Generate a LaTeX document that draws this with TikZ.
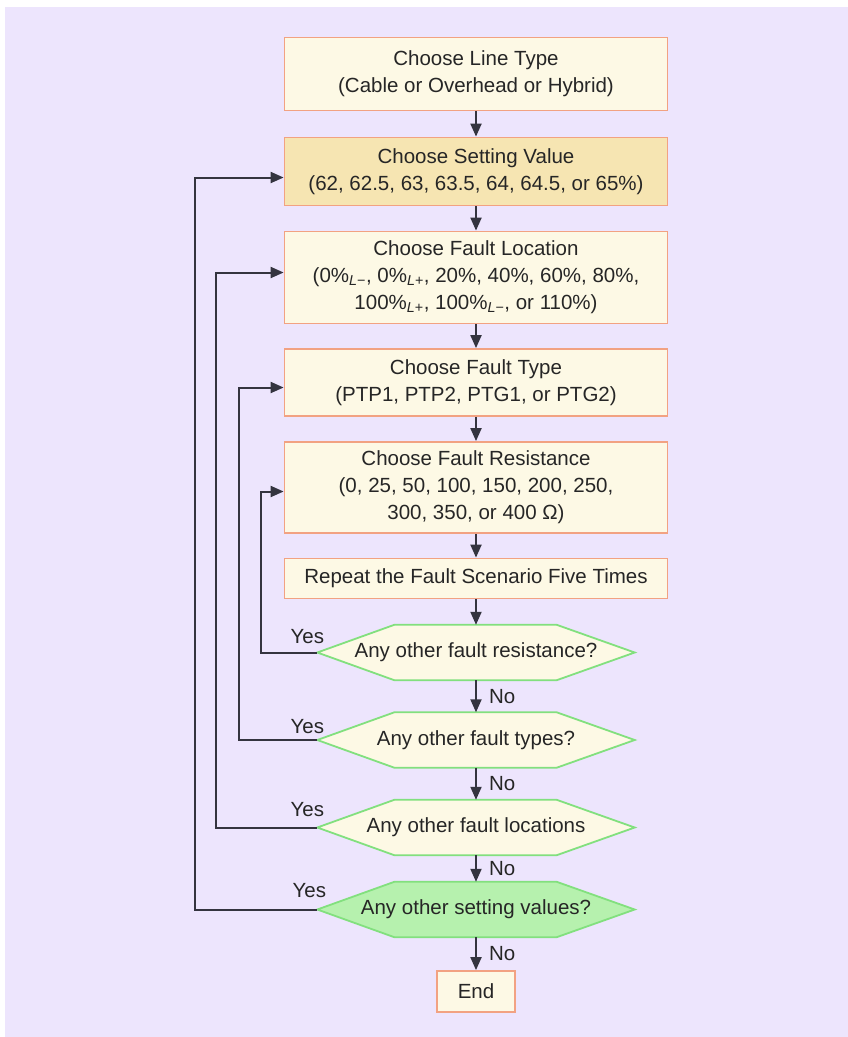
\documentclass[tikz,border=0pt]{standalone}
\usepackage{fontspec}
\setmainfont{Liberation Sans}
\usetikzlibrary{arrows.meta,backgrounds,calc}

\definecolor{pagebg}{HTML}{EDE5FD}
\definecolor{boxfill}{HTML}{FDF9E5}
\definecolor{boxgold}{HTML}{F6E5B2}
\definecolor{boxline}{HTML}{F2A282}
\definecolor{hexline}{HTML}{82E07E}
\definecolor{hexgreen}{HTML}{B6F1AE}
\definecolor{linkline}{HTML}{34343F}
\definecolor{txt}{HTML}{262626}

\tikzset{
  every node/.style={text=txt, font=\fontsize{20.5}{27}\selectfont},
  stepbox/.style={draw=boxline, line width=1.8pt, fill=boxfill, align=center,
    inner sep=0pt, minimum width=383pt},
  hexnode/.style={inner sep=0pt, minimum width=317pt, minimum height=55pt},
  hexshape/.style={draw=hexline, line width=1.8pt, fill=boxfill},
  arr/.style={draw=linkline, line width=2pt, -{Triangle[length=13pt,width=11pt]}},
  lbl/.style={inner sep=0pt}
}

\begin{document}
\begin{tikzpicture}[x=1pt, y=-1pt]
  \useasboundingbox (0,0) rectangle (848,1037);

  % process boxes
  \node[stepbox, minimum height=73pt] (b1) at (476,74)
    {Choose Line Type\\(Cable or Overhead or Hybrid)};
  \node[stepbox, minimum height=68pt, fill=boxgold] (b2) at (476,171.5)
    {Choose Setting Value\\(62, 62.5, 63, 63.5, 64, 64.5, or 65\%)};
  \node[stepbox, minimum height=92pt] (b3) at (476,277.5)
    {Choose Fault Location\\(0\%\textsubscript{\textit{L}−}, 0\%\textsubscript{\textit{L}+}, 20\%, 40\%, 60\%, 80\%,\\100\%\textsubscript{\textit{L}+}, 100\%\textsubscript{\textit{L}−}, or 110\%)};
  \node[stepbox, minimum height=67pt] (b4) at (476,382.5)
    {Choose Fault Type\\(PTP1, PTP2, PTG1, or PTG2)};
  \node[stepbox, minimum height=91pt] (b5) at (476,487.5)
    {Choose Fault Resistance\\(0, 25, 50, 100, 150, 200, 250,\\300, 350, or 400 Ω)};
  \node[stepbox, minimum height=40pt] (b6) at (476,578.5)
    {Repeat the Fault Scenario Five Times};

  % decision nodes (outlines drawn on the background layer)
  \node[hexnode] (d1) at (476,652.5) {Any other fault resistance?};
  \node[hexnode] (d2) at (476,740) {Any other fault types?};
  \node[hexnode] (d3) at (476,827.5) {Any other fault locations};
  \node[hexnode] (d4) at (476,909.5) {Any other setting values?};

  \node[stepbox, minimum width=78pt, minimum height=41pt] (e) at (476,991.5) {End};

  \begin{scope}[on background layer]
    \fill[white] (0,0) rectangle (848,1037);
    \fill[pagebg] (5,7) rectangle (848,1037);
    \foreach \d/\f in {d1/boxfill, d2/boxfill, d3/boxfill, d4/hexgreen}{
      \draw[hexshape, fill=\f] (\d.west) -- ([xshift=77pt]\d.north west)
        -- ([xshift=-78pt]\d.north east) -- (\d.east)
        -- ([xshift=-78pt]\d.south east) -- ([xshift=77pt]\d.south west) -- cycle;
    }
  \end{scope}

  % main flow
  \draw[arr] (b1) -- (b2);
  \draw[arr] (b2) -- (b3);
  \draw[arr] (b3) -- (b4);
  \draw[arr] (b4) -- (b5);
  \draw[arr] (b5) -- (b6);
  \draw[arr] (b6) -- (d1);
  \draw[arr] (d1) -- node[lbl, right=12pt] {No} (d2);
  \draw[arr] (d2) -- node[lbl, right=12pt] {No} (d3);
  \draw[arr] (d3) -- node[lbl, right=12pt] {No} (d4);
  \draw[arr] (d4) -- node[lbl, right=12pt] {No} (e);

  % loops back on "Yes"
  \draw[arr] (d1.west) -- ++(-56,0) |- ([yshift=-4pt]b5.west);
  \draw[arr] (d2.west) -- ++(-78,0) |- ([yshift=-5pt]b4.west);
  \draw[arr] (d3.west) -- ++(-101,0) |- ([yshift=5pt]b3.west);
  \draw[arr] (d4.west) -- ++(-122,0) |- ([yshift=-6pt]b2.west);

  \node[lbl] (y1) at ([xshift=-10pt,yshift=16pt]d1.west) {Yes};
  \node[lbl] (y2) at ([xshift=-10pt,yshift=13pt]d2.west) {Yes};
  \node[lbl] (y3) at ([xshift=-10pt,yshift=18pt]d3.west) {Yes};
  \node[lbl] (y4) at ([xshift=-8pt,yshift=19pt]d4.west) {Yes};
\end{tikzpicture}
\end{document}
